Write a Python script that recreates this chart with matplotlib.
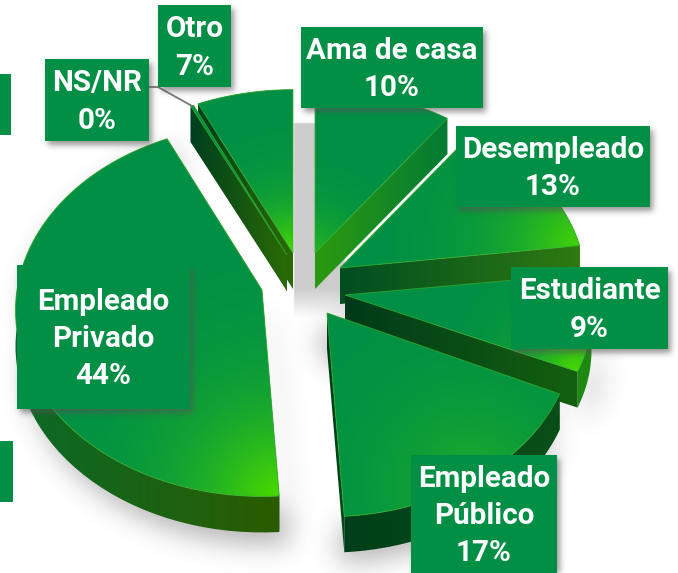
import numpy as np
import matplotlib
matplotlib.use('Agg')
import matplotlib.pyplot as plt
from matplotlib.path import Path
from matplotlib.patches import PathPatch, Polygon, Rectangle
from matplotlib.colors import to_rgb

plt.rcParams['font.family'] = ['Roboto', 'DejaVu Sans']

# data, clockwise from 12 o'clock
categories = ['Ama de casa', 'Desempleado', 'Estudiante', 'Empleado\nPúblico',
              'Empleado\nPrivado', 'NS/NR', 'Otro']
shares = [10, 13, 9, 17, 44, 0, 7]

W, H = 678, 573
GREEN = '#008f45'
BRIGHT = '#48d900'

# layout per slice
offset_x = [15, 40, 45, 27, -38, -13, -7]
offset_y = [-37, -22, 5, 23, 0, -35, -37]
squash = [0.74, 0.74, 0.70, 0.74, 0.75, 0.74, 0.74]
# glow: position inside the slice (angle fraction, radius fraction), size, strength
glows = [(0.5, 0.0, 38, 0.5), (1.0, 1.0, 70, 0.9), (1.0, 1.0, 45, 1.0), (0.55, 1.0, 80, 0.4),
         (0.0, 1.0, 85, 1.0), (0.5, 0.0, 30, 0.5), (0.5, 0.0, 45, 1.0)]
# side colours: first cut, second cut, rim (left colour, right colour)
side_cols = [(('#00401e', '#1d6c12'), ('#2b9a10', '#047a35'), ('#0a5a1e', '#0a5a1e')),
             (('#2b9a10', '#047a35'), ('#004d22', '#2f7a10'), ('#004d22', '#2f7a10')),
             (('#0a5a1e', '#0a5a1e'), ('#003a1a', '#14600f'), ('#1c8a10', '#1c8a10')),
             (('#003a18', '#0a5a16'), ('#003a18', '#004a1c'), ('#003f1a', '#0a4f18')),
             (('#004a20', '#004a20'), ('#004a20', '#004a20'), ('#0a6a28', '#2b5b00')),
             (('#00401e', '#2a6a05'), ('#00401e', '#2a6a05'), ('#00401e', '#00401e')),
             (('#00401e', '#2a6a05'), ('#00401e', '#2a6a05'), ('#00401e', '#00401e'))]
draw_order = [6, 5, 0, 1, 2, 4, 3]

cx, cy = 300, 290
depth = 36

# label boxes: left, top, right, bottom
boxes = [(301, 27, 483, 108), (456, 126, 650, 207), (511, 267, 668, 349), (411, 455, 557, 573),
         (17, 265, 190, 409), (45, 59, 149, 141), (158, 5, 231, 87)]
stubs = [(0, 74, 11, 135), (0, 441, 13, 502)]

fig = plt.figure(figsize=(W / 100, H / 100), dpi=100)
ax = fig.add_axes([0, 0, 1, 1])
ax.axis('off')

yy, xx = np.mgrid[0:H, 0:W] + 0.5
grid = np.column_stack([xx.ravel(), yy.ravel()])


def blur(img, sigma):
    # padded so nothing wraps round the picture
    fx = np.fft.fftfreq(2 * W)[None, :]
    fy = np.fft.fftfreq(2 * H)[:, None]
    g = np.exp(-2 * (np.pi * sigma) ** 2 * (fx ** 2 + fy ** 2))
    return np.real(np.fft.ifft2(np.fft.fft2(img, s=(2 * H, 2 * W)) * g))[:H, :W]


def poly_mask(pts):
    return Path(pts).contains_points(grid).reshape(H, W).astype(float)


def paint(rgb, alpha, z):
    img = np.dstack([rgb[..., 0], rgb[..., 1], rgb[..., 2], alpha])
    return ax.imshow(img, extent=(0, W, H, 0), aspect='auto', zorder=z, interpolation='bilinear')


def shadow(pts, dx, dy, sigma, strength, z):
    m = blur(poly_mask(np.asarray(pts) + [dx, dy]), sigma)
    rgb = np.full((H, W, 3), 0.33)
    paint(rgb, np.clip(m, 0, 1) * strength, z)


def fill_x(pts, c0, c1, z):
    # polygon with a left to right gradient
    pts = np.asarray(pts)
    t = np.clip((xx - pts[:, 0].min()) / max(np.ptp(pts[:, 0]), 1), 0, 1)[..., None]
    rgb = np.array(to_rgb(c0)) * (1 - t) + np.array(to_rgb(c1)) * t
    im = paint(rgb, np.ones((H, W)), z)
    im.set_clip_path(PathPatch(Path(np.vstack([pts, pts[:1]]), closed=True), transform=ax.transData))


def project(theta, r, k):
    v = r * np.cos(theta)
    s = 245 / (1 + 0.11 * v)
    return r * np.sin(theta) * s, -v * s * k


edges = np.radians(np.cumsum([0] + shares) * 3.6)
faces = []
for i in range(len(shares)):
    t0, t1 = edges[i], edges[i + 1]
    if shares[i] == 0:
        # a zero share still shows as a sliver in the picture
        t0, t1 = t0 - np.radians(0.4), t0 + np.radians(0.4)
    th = np.linspace(t0, t1, 60)
    ox, oy = cx + offset_x[i], cy + offset_y[i]
    ax_, ay_ = project(th, 1.0, squash[i])
    arc = np.column_stack([ox + ax_, oy + ay_])
    apex = np.array([ox, oy])
    faces.append((apex, arc, th))

# backdrop and soft shadows
fade = np.clip((318 - yy) / 30, 0, 1)
back = blur(poly_mask([(294, 123), (345, 123), (345, 320), (294, 320)]), 0.6) * fade
paint(np.full((H, W, 3), 0.8), np.clip(back, 0, 1), 1)
shadow_dx = {2: 8, 3: -4, 4: 10}
shadow_dy = {2: 14, 3: 10, 4: 12}
for i in shadow_dx:
    apex, arc, th = faces[i]
    outline = np.vstack([apex, arc, arc[::-1] + [0, depth], apex + [0, depth]])
    shadow(outline, shadow_dx[i], shadow_dy[i], 13, 0.45, 2)

for i in draw_order:
    apex, arc, th = faces[i]
    down = np.array([0, depth])
    c_a, c_b, c_r = side_cols[i]
    q_a = np.array([apex, arc[0], arc[0] + down, apex + down])
    q_b = np.array([apex, arc[-1], arc[-1] + down, apex + down])
    q_r = np.vstack([arc, arc[::-1] + down])
    z = 3 + draw_order.index(i) * 0.1
    fill_x(q_a, c_a[0], c_a[1], z)
    fill_x(q_r, c_r[0], c_r[1], z + 0.01)
    fill_x(q_b, c_b[0], c_b[1], z + 0.02)

    top = np.vstack([apex, arc])
    gf, gr, gs, ga = glows[i]
    gp = apex + gr * (arc[int(gf * (len(arc) - 1))] - apex)
    d = np.hypot(xx - gp[0], yy - gp[1]) / gs
    t = (ga * np.exp(-d ** 1.3))[..., None]
    rgb = np.array(to_rgb(GREEN)) * (1 - t) + np.array(to_rgb(BRIGHT)) * t
    im = paint(rgb, np.ones((H, W)), z + 0.03)
    im.set_clip_path(PathPatch(Path(np.vstack([top, top[:1]]), closed=True), transform=ax.transData))
    ax.add_patch(Polygon(top, closed=True, fc='none', ec='#35ad2c', lw=0.7, alpha=0.8, zorder=z + 0.04))

# leader of the NS/NR label
ax.plot([149, 158, 192], [87, 87, 106], color='#777777', lw=1.3, zorder=4.5)

# labels
for (x0, y0, x1, y1) in boxes:
    shadow([(x0, y0), (x1, y0), (x1, y1), (x0, y1)], 3, 4, 3, 0.6, 5)
for (x0, y0, x1, y1) in stubs:
    ax.add_patch(Rectangle((x0, y0), x1 - x0, y1 - y0, fc=GREEN, ec='none', zorder=6))
for name, pct, (x0, y0, x1, y1) in zip(categories, shares, boxes):
    ax.add_patch(Rectangle((x0, y0), x1 - x0, y1 - y0, fc=GREEN, ec='none', zorder=6))
    ax.text((x0 + x1) / 2, (y0 + y1) / 2 + 2, f'{name}\n{pct}%', color='white', fontsize=21.3,
            fontweight='bold', ha='center', va='center', linespacing=1.41, zorder=7)

ax.set_xlim(0, W)
ax.set_ylim(H, 0)
fig.savefig('out.png', dpi=100, facecolor='white')
